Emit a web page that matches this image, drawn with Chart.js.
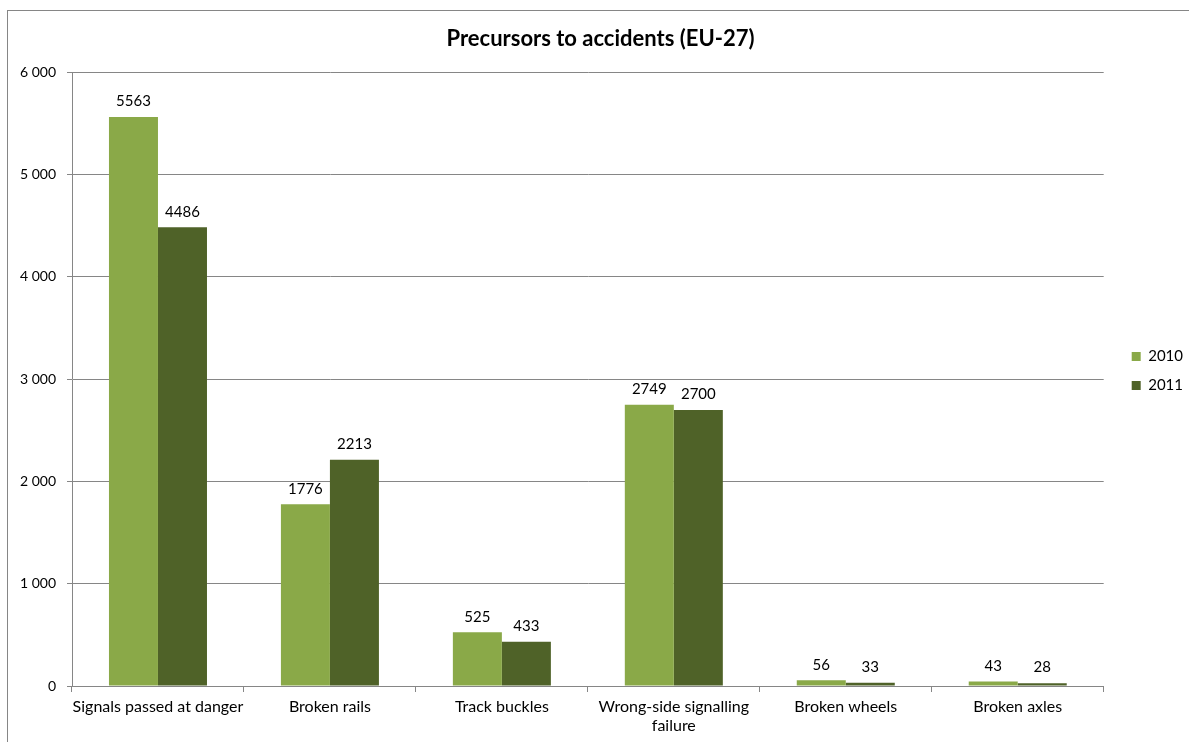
<!DOCTYPE html>
<html>
<head>
<meta charset="utf-8">
<script src="https://cdn.jsdelivr.net/npm/chart.js@4"></script>
<style>
  html, body { margin: 0; padding: 0; background: #fff; }
  #wrap { width: 1189px; height: 742px; position: relative; }
</style>
</head>
<body>
<div id="wrap"><canvas id="precursorsChart"></canvas></div>
<script>
// Chart data
const categories = ['Signals passed at danger', 'Broken rails', 'Track buckles', ['Wrong-side signalling', 'failure'], 'Broken wheels', 'Broken axles'];
const seriesNames = ['2010', '2011'];
const values2010 = [5563, 1776, 525, 2749, 56, 43];
const values2011 = [4486, 2213, 433, 2700, 33, 28];
const yTicks = [0, 1000, 2000, 3000, 4000, 5000, 6000];

const fontFamily = 'Lato, "Open Sans", sans-serif';

// Outer chart border (cut off at right / bottom like the original)
const frame = {
    id: 'frame',
    beforeDraw(chart) {
        const ctx = chart.ctx;
        ctx.save();
        ctx.strokeStyle = '#868686';
        ctx.lineWidth = 1;
        ctx.strokeRect(7.5, 10.5, chart.width + 20, chart.height + 20);
        ctx.restore();
    }
};

// nudge legend and title to where the original has them
const blockShift = {
    id: 'blockShift',
    afterLayout(chart) {
        chart.legend.left += 14;
        chart.legend.right += 14;
        chart.titleBlock.left += 11;
        chart.titleBlock.right += 11;
    }
};

// Value labels above the bars
const valueLabels = {
    id: 'valueLabels',
    afterDatasetsDraw(chart) {
        const ctx = chart.ctx;
        ctx.save();
        ctx.font = '15px ' + fontFamily;
        ctx.fillStyle = '#000';
        ctx.textAlign = 'center';
        ctx.textBaseline = 'bottom';
        chart.data.datasets.forEach((ds, i) => {
            chart.getDatasetMeta(i).data.forEach((bar, j) => {
                ctx.fillText(ds.data[j], bar.x, bar.y - 8);
            });
        });
        ctx.restore();
    }
};

const ctx = document.getElementById('precursorsChart').getContext('2d');
new Chart(ctx, {
    type: 'bar',
    data: {
        labels: categories,
        datasets: [{
            label: seriesNames[0],
            data: values2010,
            backgroundColor: '#8aa948'
        }, {
            label: seriesNames[1],
            data: values2011,
            backgroundColor: '#4f6228'
        }]
    },
    options: {
        responsive: true,
        maintainAspectRatio: false,
        animation: false,
        categoryPercentage: 0.57,
        barPercentage: 1,
        layout: {
            padding: { left: 0, right: 10, top: 0, bottom: 0 }
        },
        scales: {
            x: {
                grid: {
                    offset: true,
                    drawOnChartArea: false,
                    drawTicks: true,
                    tickLength: 6,
                    color: '#868686'
                },
                border: { color: '#868686' },
                ticks: {
                    color: '#000',
                    font: { family: fontFamily, size: 16, lineHeight: 1.2 },
                    maxRotation: 0,
                    autoSkip: false,
                    padding: 5
                },
                afterFit(scale) { scale.height = 56; }
            },
            y: {
                min: 0,
                max: 6000,
                afterBuildTicks(scale) {
                    scale.ticks = yTicks.map(v => ({ value: v }));
                },
                grid: {
                    color: '#868686',
                    tickLength: 5
                },
                border: { color: '#868686' },
                ticks: {
                    color: '#000',
                    font: { family: fontFamily, size: 14 },
                    padding: 11,
                    callback: v => String(v).replace(/\B(?=(\d{3})+(?!\d))/g, ' ')
                },
                afterFit(scale) { scale.width = 72; }
            }
        },
        plugins: {
            title: {
                display: true,
                text: 'Precursors to accidents (EU-27)',
                color: '#000',
                font: { family: fontFamily, size: 22, weight: 'bold' },
                padding: { top: 26, bottom: 20 }
            },
            legend: {
                position: 'right',
                labels: {
                    color: '#000',
                    boxWidth: 9,
                    boxHeight: 9,
                    padding: 14,
                    font: { family: fontFamily, size: 15 }
                }
            },
            tooltip: { enabled: false }
        }
    },
    plugins: [frame, blockShift, valueLabels]
});
</script>
</body>
</html>
